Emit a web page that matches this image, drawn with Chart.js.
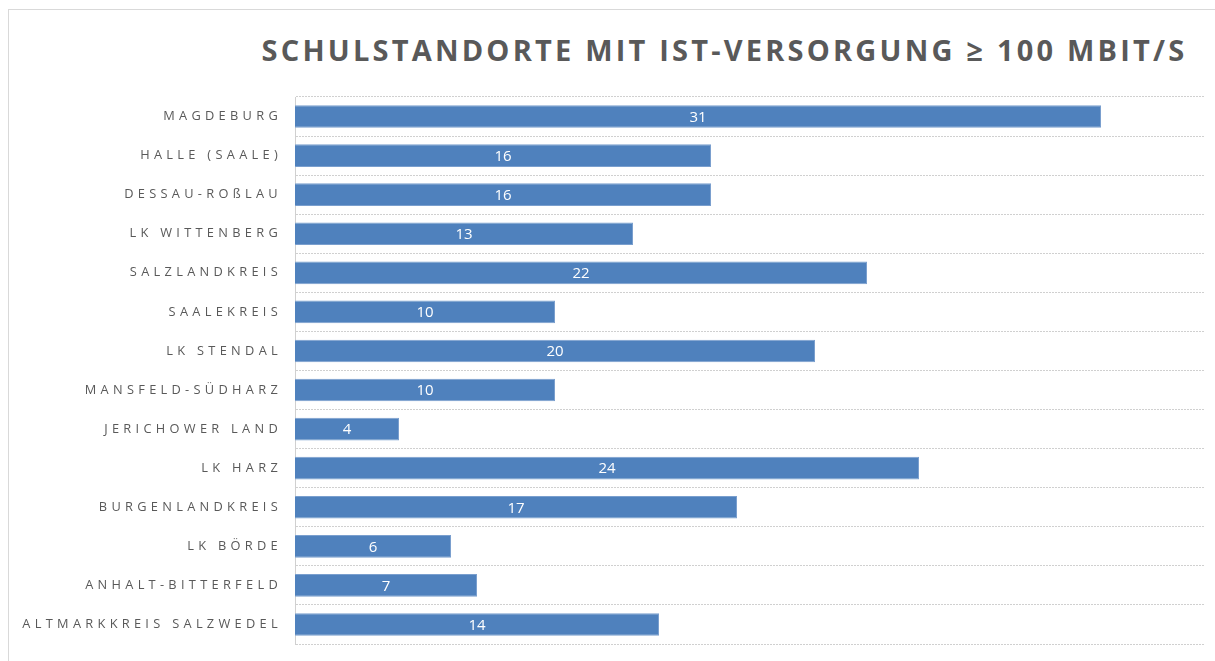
<!DOCTYPE html>
<html>
<head>
<meta charset="utf-8">
<script src="https://cdn.jsdelivr.net/npm/chart.js@4"></script>
<style>
  html, body { margin: 0; padding: 0; background: #fff; overflow: hidden; }
  #frame { position: absolute; left: 8px; top: 9px; width: 1215px; height: 670px;
           border: 1px solid #d9d9d9; box-sizing: border-box; }
  #title { position: absolute; left: 252px; top: 30px; width: 945px; text-align: center;
           font: bold 29px 'Open Sans', sans-serif; color: #595959; letter-spacing: 3.2px;
           white-space: nowrap; }
  #wrap { position: absolute; left: 0; top: 0; width: 1215px; height: 661px; }
</style>
</head>
<body>
<div id="frame"></div>
<div id="title">SCHULSTANDORTE MIT IST-VERSORGUNG ≥ 100 MBIT/S</div>
<div id="wrap"><canvas id="c"></canvas></div>
<script>
'use strict';

// Landkreise / kreisfreie Städte
const KREISE = ['MAGDEBURG', 'HALLE (SAALE)', 'DESSAU-ROßLAU', 'LK WITTENBERG', 'SALZLANDKREIS',
                'SAALEKREIS', 'LK STENDAL', 'MANSFELD-SÜDHARZ', 'JERICHOWER LAND', 'LK HARZ',
                'BURGENLANDKREIS', 'LK BÖRDE', 'ANHALT-BITTERFELD', 'ALTMARKKREIS SALZWEDEL'];
// Schulstandorte mit >= 100 Mbit/s
const STANDORTE = [31, 16, 16, 13, 22, 10, 20, 10, 4, 24, 17, 6, 7, 14];
const X_MIN = 0, X_MAX = 35;

const GRAU  = '#595959';
const LINIE = '#d0d0d0';
const BLAU  = '#4f81bd';

// Sperrung der Achsenbeschriftung (Canvas letterSpacing)
const sperrung = {
  id: 'sperrung',
  beforeDraw(chart) { chart.ctx.letterSpacing = '4.3px'; },
  beforeDatasetsDraw(chart) { chart.ctx.letterSpacing = '0px'; },
};

// Werte mittig in die Balken schreiben
const werte = {
  id: 'werte',
  afterDatasetsDraw(chart) {
    const ctx = chart.ctx;
    const meta = chart.getDatasetMeta(0);
    ctx.save();
    ctx.fillStyle = '#ffffff';
    ctx.font = "15px 'Open Sans', sans-serif";
    ctx.textAlign = 'center';
    ctx.textBaseline = 'middle';
    meta.data.forEach((bar, i) => {
      ctx.fillText(String(STANDORTE[i]), (bar.x + bar.base) / 2, bar.y + 1);
    });
    ctx.restore();
  },
};

new Chart(document.getElementById('c'), {
  type: 'bar',
  data: {
    labels: KREISE,
    datasets: [{
      data: STANDORTE,
      backgroundColor: BLAU,
      borderColor: '#7a9fce',
      borderWidth: 1,
      barPercentage: 0.58,
      categoryPercentage: 1,
    }],
  },
  options: {
    indexAxis: 'y', responsive: true, maintainAspectRatio: false, animation: false,
    layout: { padding: { top: 97, bottom: 17, left: 0, right: 10 } },
    plugins: { legend: { display: false }, tooltip: { enabled: false } },
    scales: {
      x: { display: false, min: X_MIN, max: X_MAX },
      y: {
        afterFit: (s) => { s.width = 295; },
        grid: { color: LINIE, borderDash: [2, 1], offset: true,
                drawTicks: true, tickLength: 13, tickColor: 'rgba(0,0,0,0)' },
        border: { color: LINIE, dash: [2, 1] },
        ticks: { color: GRAU, padding: 0, font: { family: "'Open Sans', sans-serif", size: 12.8 } },
      },
    },
  },
  plugins: [sperrung, werte],
});
</script>
</body>
</html>
